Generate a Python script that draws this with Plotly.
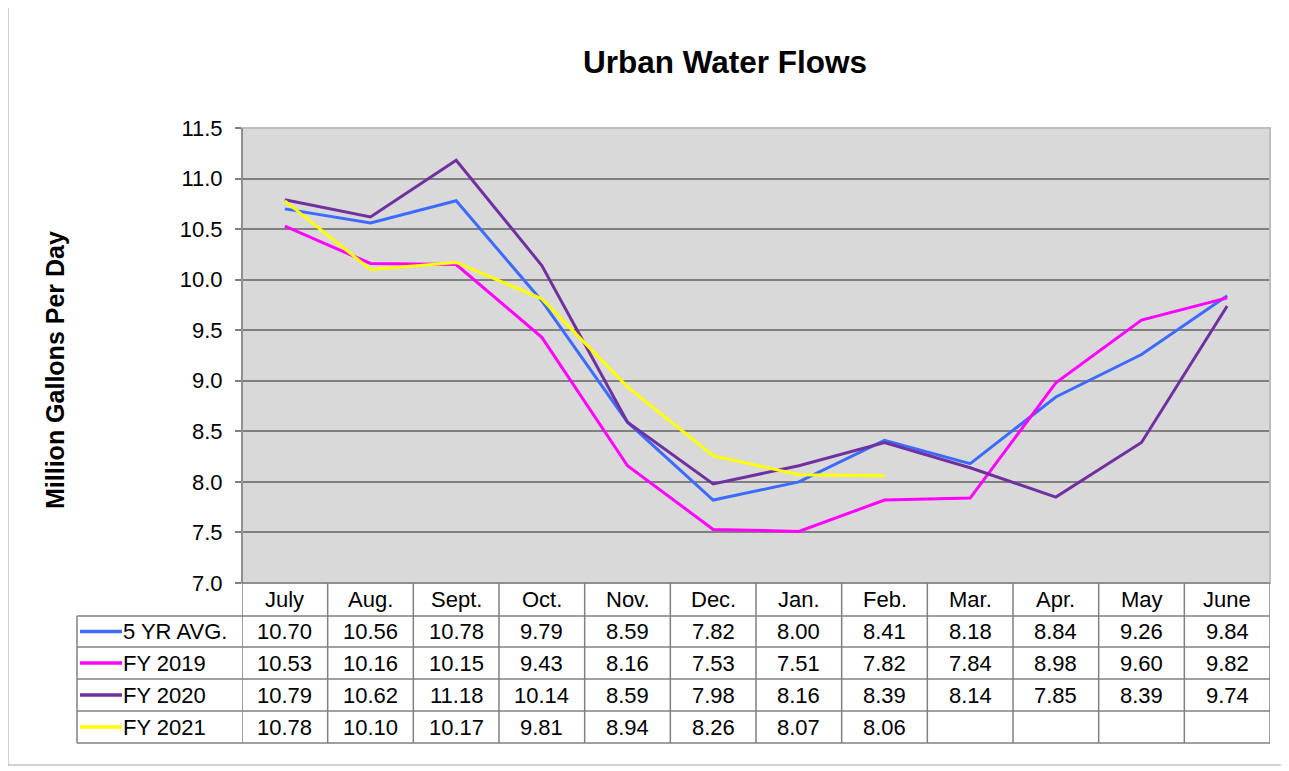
import plotly.graph_objects as go

months = ["July", "Aug.", "Sept.", "Oct.", "Nov.", "Dec.", "Jan.", "Feb.", "Mar.", "Apr.", "May", "June"]
avg5 = [10.70, 10.56, 10.78, 9.79, 8.59, 7.82, 8.00, 8.41, 8.18, 8.84, 9.26, 9.84]
fy2019 = [10.53, 10.16, 10.15, 9.43, 8.16, 7.53, 7.51, 7.82, 7.84, 8.98, 9.60, 9.82]
fy2020 = [10.79, 10.62, 11.18, 10.14, 8.59, 7.98, 8.16, 8.39, 8.14, 7.85, 8.39, 9.74]
fy2021 = [10.78, 10.10, 10.17, 9.81, 8.94, 8.26, 8.07, 8.06, None, None, None, None]

series = [
    ("5 YR AVG.", avg5, "#3D6BFF"),
    ("FY 2019", fy2019, "#FF00FF"),
    ("FY 2020", fy2020, "#7030A0"),
    ("FY 2021", fy2021, "#FFFF00"),
]

# page body has an 8px margin; figure is drawn at an offset of 8px
OFF = 8
W, H = 1289, 771
L, R, T, B = 242, 1270, 128, 583
PW, PH = R - L, B - T

def px(X):
    return (X - L) / PW

def py(Y):
    return (B - Y) / PH

FONT = "Liberation Sans, Arial, sans-serif"
GRID = "#808080"
TXT = 22

fig = go.Figure()
xs = list(range(len(months)))
for name, vals, col in series:
    fig.add_trace(go.Scatter(x=xs, y=vals, mode="lines", name=name,
                             line=dict(color=col, width=3), connectgaps=False))

shapes = []
annotations = []

# outer frame
shapes.append(dict(type="rect", xref="paper", yref="paper", x0=px(8), x1=px(1287), y0=py(765), y1=py(7),
                   line=dict(color="#a6a6a6", width=1), layer="below"))
# plot border
shapes.append(dict(type="rect", xref="paper", yref="paper", x0=0, x1=1, y0=0, y1=1,
                   line=dict(color="#bdbdbd", width=2)))

# table geometry (pixel rows)
row_edges = [583, 616, 647, 679, 711, 743]
row_centers = [(row_edges[i] + row_edges[i + 1]) / 2 for i in range(5)]
LEG_L = 77

for i, yv in enumerate(row_edges):
    x0 = 0 if i == 0 else px(LEG_L)
    shapes.append(dict(type="line", xref="paper", yref="paper", x0=x0, x1=1, y0=py(yv), y1=py(yv),
                       line=dict(color=GRID, width=1.5)))
for i in range(len(months) + 1):
    shapes.append(dict(type="line", xref="x", yref="paper", x0=i - 0.5, x1=i - 0.5, y0=py(743), y1=py(583),
                       line=dict(color=GRID, width=1.5)))
shapes.append(dict(type="line", xref="paper", yref="paper", x0=px(LEG_L), x1=px(LEG_L), y0=py(743), y1=py(616),
                   line=dict(color=GRID, width=1.5)))
shapes.append(dict(type="line", xref="paper", yref="paper", x0=0, x1=0, y0=0, y1=1,
                   line=dict(color=GRID, width=1.5)))

for i, m in enumerate(months):
    annotations.append(dict(x=i, y=py(row_centers[0]), xref="x", yref="paper", text=m, showarrow=False,
                            font=dict(family=FONT, size=TXT, color="black"), xanchor="center", yanchor="middle"))

for r, (name, vals, col) in enumerate(series):
    yc = py(row_centers[r + 1])
    shapes.append(dict(type="line", xref="paper", yref="paper", x0=px(80), x1=px(122), y0=yc, y1=yc,
                       line=dict(color=col, width=3.5)))
    annotations.append(dict(x=px(121), y=yc, xref="paper", yref="paper", text=name, showarrow=False,
                            font=dict(family=FONT, size=TXT, color="black"), xanchor="left", yanchor="middle"))
    for i, v in enumerate(vals):
        if v is None:
            continue
        annotations.append(dict(x=i, y=yc, xref="x", yref="paper", text=f"{v:.2f}", showarrow=False,
                                font=dict(family=FONT, size=TXT, color="black"), xanchor="center", yanchor="middle"))

annotations.append(dict(x=px(725), y=py(62), xref="paper", yref="paper", text="<b>Urban Water Flows</b>",
                        showarrow=False, font=dict(family=FONT, size=31.5, color="black"),
                        xanchor="center", yanchor="middle"))
annotations.append(dict(x=px(55), y=py(370), xref="paper", yref="paper", text="<b>Million Gallons Per Day</b>",
                        showarrow=False, textangle=-90, font=dict(family=FONT, size=25, color="black"),
                        xanchor="center", yanchor="middle"))

fig.update_layout(
    width=W - OFF, height=H - OFF,
    margin=dict(l=L - OFF, r=W - R, t=T - OFF, b=H - B),
    paper_bgcolor="white",
    plot_bgcolor="#d9d9d9",
    showlegend=False,
    shapes=shapes,
    annotations=annotations,
    xaxis=dict(range=[-0.5, len(months) - 0.5], showticklabels=False, showgrid=False, zeroline=False,
               ticks="", showline=False, fixedrange=True),
    yaxis=dict(range=[7, 11.5], dtick=0.5, tick0=7, tickformat=".1f", showgrid=True,
               gridcolor=GRID, gridwidth=1.5, zeroline=False, ticks="outside", ticklen=6,
               tickcolor=GRID, tickwidth=1.5, showline=False, ticklabelstandoff=8,
               tickfont=dict(family=FONT, size=TXT, color="black"), fixedrange=True),
)

fig.write_html("out.html")
